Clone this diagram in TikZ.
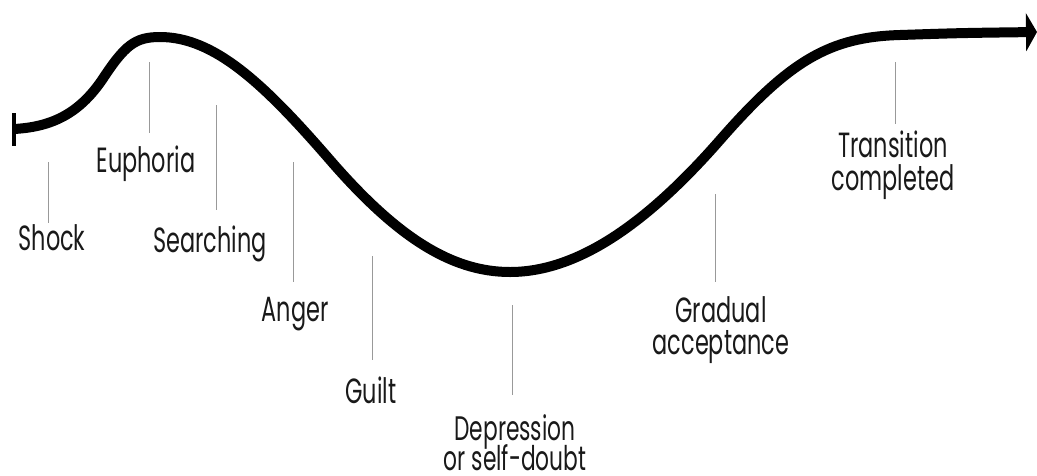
\documentclass[tikz,border=0pt]{standalone}
\usepackage{fontspec}
\setmainfont{Poppins}[FakeStretch=0.64]
\usetikzlibrary{arrows.meta}
\newcommand\mylabfont{\fontsize{35}{32}\selectfont\lineskiplimit=-60pt\relax}
\newcommand\mydeprfont{\fontsize{34}{30}\selectfont\lineskiplimit=-60pt\relax}
\newcommand\mytransfont{\fontsize{35}{33}\selectfont\lineskiplimit=-60pt\relax}
\begin{document}
\begin{tikzpicture}[x=1pt,y=-1pt,
  curve/.style={line width=10pt,line cap=butt,black},
  tick/.style={line width=1pt,black!40},
  lab/.style={font=\mylabfont,inner sep=0pt,anchor=north,align=center,text=black!90}]
\useasboundingbox (0,0) rectangle (1037,475);
% main curve
\coordinate (start) at (14,129);
\coordinate (finish) at (1037,32);
\draw[curve,-{Triangle[length=11pt,width=38pt]}] (start)
  .. controls (50,127) and (78,115) .. (102,80)
  .. controls (125,45) and (135,37) .. (160,37)
  .. controls (215,37) and (265,85) .. (330,160)
  .. controls (395,235) and (450,272) .. (510,272)
  .. controls (580,272) and (650,220) .. (720,140)
  .. controls (790,60) and (830,37) .. (900,35)
  .. controls (960,33) .. (finish);
\draw[line width=4.5pt] (14,113) -- (14,146);
% labels
\node[lab] (shock) at (52,224) {Shock};
\node[lab] (euph) at (146,146) {Euphoria};
\node[lab] (search) at (210,226) {Searching};
\node[lab] (anger) at (295,297) {Anger};
\node[lab] (guilt) at (371,377) {Guilt};
\node[lab,font=\mydeprfont] (depr) at (515,414) {Depression\\or self-doubt};
\node[lab] (grad) at (721,296) {Gradual\\acceptance};
\node[lab,font=\mytransfont] (trans) at (893,131) {Transition\\completed};
% tick lines
\coordinate (s1) at (48,162);  \coordinate (s2) at (48,223);
\coordinate (e1) at (149,62);  \coordinate (e2) at (149,133);
\coordinate (r1) at (216,105); \coordinate (r2) at (216,210);
\coordinate (a1) at (293,162); \coordinate (a2) at (293,282);
\coordinate (g1) at (372,256); \coordinate (g2) at (372,360);
\coordinate (d1) at (512,305); \coordinate (d2) at (512,395);
\coordinate (c1) at (715,194); \coordinate (c2) at (715,282);
\coordinate (t1) at (895,62);  \coordinate (t2) at (895,124);
\draw[tick] (s1) -- (s2);
\draw[tick] (e1) -- (e2);
\draw[tick] (r1) -- (r2);
\draw[tick] (a1) -- (a2);
\draw[tick] (g1) -- (g2);
\draw[tick] (d1) -- (d2);
\draw[tick] (c1) -- (c2);
\draw[tick] (t1) -- (t2);
\end{tikzpicture}
\end{document}
